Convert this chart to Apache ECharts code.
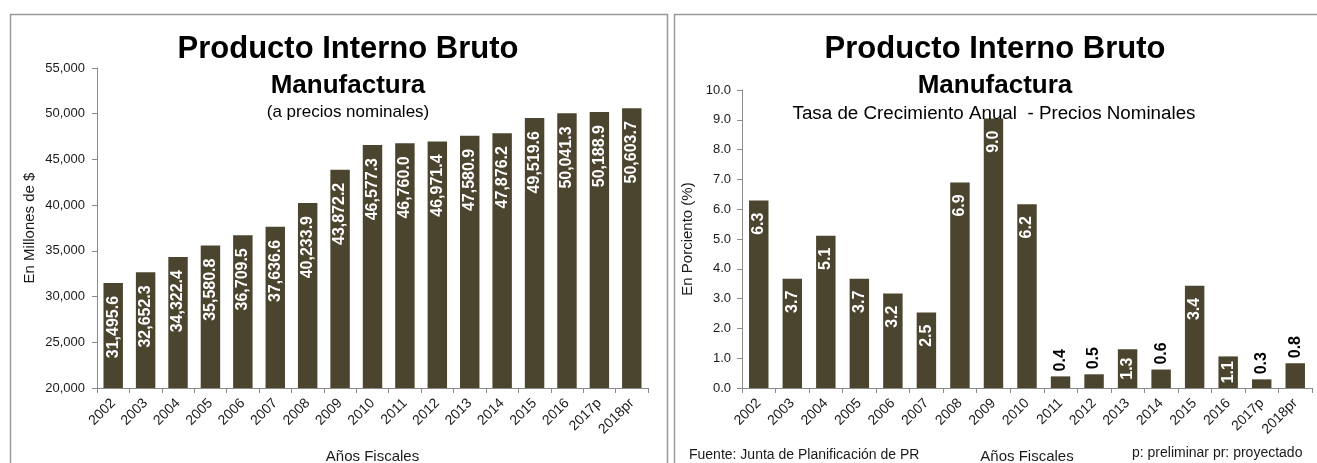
<!DOCTYPE html>
<html>
<head>
<meta charset="utf-8">
<script src="https://cdn.jsdelivr.net/npm/echarts@6/dist/echarts.min.js"></script>
<style>
html,body{margin:0;padding:0;background:#fff;}
#chart{width:1317px;height:463px;}
</style>
</head>
<body>
<div id="chart"></div>
<script>
// ---- Data ----
var categories = ['2002','2003','2004','2005','2006','2007','2008','2009','2010','2011','2012','2013','2014','2015','2016','2017p','2018pr'];
var pibValues = [31495.6, 32652.3, 34322.4, 35580.8, 36709.5, 37636.6, 40233.9, 43872.2, 46577.3, 46760.0, 46971.4, 47580.9, 47876.2, 49519.6, 50041.3, 50188.9, 50603.7];
var growthValues = [6.29, 3.67, 5.11, 3.67, 3.17, 2.53, 6.90, 9.04, 6.17, 0.39, 0.46, 1.30, 0.62, 3.43, 1.06, 0.29, 0.83];
var leftTicks = [20000, 25000, 30000, 35000, 40000, 45000, 50000, 55000];
var rightTicks = [0,1,2,3,4,5,6,7,8,9,10];

var FONT = '"Liberation Sans", Arial, sans-serif';
var BAR = '#4b442e';
var AXIS = '#8a8a8a';
var TXT = '#1a1a1a';

function fmtThousands(v){
  return Number(v).toLocaleString('en-US',{minimumFractionDigits:1,maximumFractionDigits:1});
}

var leftData = pibValues.map(function(v){ return {value:v}; });
var rightData = growthValues.map(function(v){
  var lab;
  if (v < 1) {
    lab = {position:'top', distance:5, color:'#000', align:'left', verticalAlign:'middle'};
  } else if (v < 2) {
    lab = {position:'inside', distance:0, color:'#fff', align:'center', verticalAlign:'middle'};
  } else {
    lab = {position:'insideTop', distance:12, color:'#fff', align:'right', verticalAlign:'middle'};
  }
  return {value:v, label:lab};
});

var chart = echarts.init(document.getElementById('chart'), null, {renderer:'canvas'});

function xAxisCfg(grid, nameGap){
  return {
    type:'category', gridIndex:grid, data:categories,
    boundaryGap:true,
    name:'Años Fiscales', nameLocation:'middle', nameGap:nameGap,
    nameTextStyle:{fontFamily:FONT, fontSize:15, color:TXT},
    axisLine:{lineStyle:{color:AXIS, width:1}},
    axisTick:{show:true, length:5, lineStyle:{color:AXIS}, alignWithLabel:false},
    axisLabel:{rotate:45, fontFamily:FONT, fontSize:14, color:TXT, margin:13, interval:0},
    splitLine:{show:false}
  };
}

var option = {
  animation:false,
  backgroundColor:'#fff',
  title:[
    {text:'Producto Interno Bruto', left:343, top:29, textAlign:'center',
     textStyle:{fontFamily:FONT, fontSize:31, fontWeight:'bold', color:'#000'}},
    {text:'Manufactura', left:343, top:68, textAlign:'center',
     textStyle:{fontFamily:FONT, fontSize:26, fontWeight:'bold', color:'#000'}},
    {text:'(a precios nominales)', left:343, top:99, textAlign:'center',
     textStyle:{fontFamily:FONT, fontSize:17, fontWeight:'normal', color:'#000'}},
    {text:'Producto Interno Bruto', left:990, top:29, textAlign:'center',
     textStyle:{fontFamily:FONT, fontSize:31, fontWeight:'bold', color:'#000'}},
    {text:'Manufactura', left:990, top:68, textAlign:'center',
     textStyle:{fontFamily:FONT, fontSize:26, fontWeight:'bold', color:'#000'}},
    {text:'Tasa de Crecimiento Anual  - Precios Nominales', left:989, top:99, textAlign:'center',
     textStyle:{fontFamily:FONT, fontSize:18.8, fontWeight:'normal', color:'#000'}}
  ],
  grid:[
    {left:97, top:68, width:551, height:320, containLabel:false, outerBoundsMode:'none'},
    {left:742, top:90, width:570, height:298, containLabel:false, outerBoundsMode:'none'}
  ],
  xAxis:[ xAxisCfg(0, 61), xAxisCfg(1, 61) ],
  yAxis:[
    {type:'value', gridIndex:0, min:leftTicks[0], max:leftTicks[leftTicks.length-1], interval:leftTicks[1]-leftTicks[0],
     name:'En Millones de $', nameLocation:'middle', nameGap:60, nameRotate:90,
     nameTextStyle:{fontFamily:FONT, fontSize:15, color:TXT},
     axisLine:{show:true, lineStyle:{color:AXIS}},
     axisTick:{show:true, length:5, lineStyle:{color:AXIS}},
     axisLabel:{fontFamily:FONT, fontSize:13, color:TXT, margin:12,
       formatter:function(v){return Number(v).toLocaleString('en-US');}},
     splitLine:{show:false}},
    {type:'value', gridIndex:1, min:rightTicks[0], max:rightTicks[rightTicks.length-1], interval:rightTicks[1]-rightTicks[0],
     name:'En Porciento (%)', nameLocation:'middle', nameGap:47, nameRotate:90,
     nameTextStyle:{fontFamily:FONT, fontSize:15, color:TXT},
     axisLine:{show:true, lineStyle:{color:AXIS}},
     axisTick:{show:true, length:5, lineStyle:{color:AXIS}},
     axisLabel:{fontFamily:FONT, fontSize:13, color:TXT, margin:11,
       formatter:function(v){return Number(v).toFixed(1);}},
     splitLine:{show:false}}
  ],
  series:[
    {type:'bar', xAxisIndex:0, yAxisIndex:0, data:leftData, barCategoryGap:'40%',
     itemStyle:{color:BAR},
     label:{show:true, position:'insideTop', distance:13, rotate:90, align:'right', verticalAlign:'middle',
       fontFamily:FONT, fontSize:16, fontWeight:'bold', color:'#fff',
       formatter:function(p){return fmtThousands(p.value);}}},
    {type:'bar', xAxisIndex:1, yAxisIndex:1, data:rightData, barCategoryGap:'42%',
     itemStyle:{color:BAR},
     label:{show:true, rotate:90, fontFamily:FONT, fontSize:16, fontWeight:'bold',
       formatter:function(p){return Number(p.value).toFixed(1);}}}
  ],
  graphic:[
    {type:'rect', shape:{x:10.5, y:14.5, width:657, height:470}, silent:true,
     style:{fill:null, stroke:'#9a9a9a', lineWidth:1.5}},
    {type:'rect', shape:{x:674.5, y:14.5, width:660, height:470}, silent:true,
     style:{fill:null, stroke:'#9a9a9a', lineWidth:1.5}},
    {type:'text', left:689, top:448, silent:true,
     style:{text:'Fuente: Junta de Planificación de PR', fontFamily:FONT, fontSize:14, fill:TXT}},
    {type:'text', left:1132, top:446, silent:true,
     style:{text:'p: preliminar pr: proyectado', fontFamily:FONT, fontSize:14, fill:TXT}}
  ]
};
chart.setOption(option);
</script>
</body>
</html>
